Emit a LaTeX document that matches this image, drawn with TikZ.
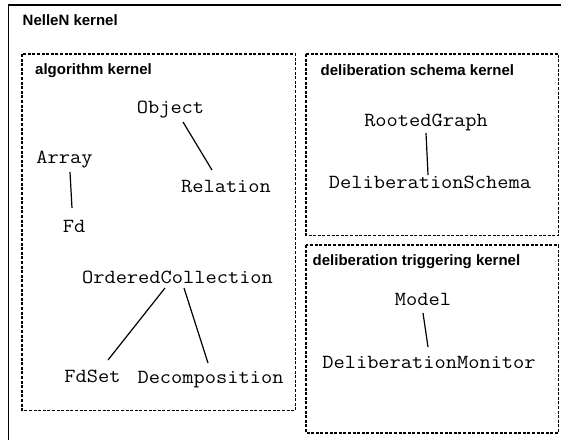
\documentclass[tikz,border=0pt]{standalone}
\usepackage{fontspec}
\setmainfont{Liberation Sans}
\newfontfamily\classfont{Latin Modern Mono}[FakeStretch=1.09]
\usetikzlibrary{calc}
\tikzset{
  kernelbox/.style={draw, line width=1.1pt, dash pattern=on 3pt off 1.6pt},
  kerneltitle/.style={anchor=base west, inner sep=0pt, font=\fontsize{15}{17}\selectfont\bfseries},
  classname/.style={anchor=base, inner sep=0pt, font=\fontsize{20}{23}\selectfont\classfont},
  link/.style={line width=1.2pt},
}
\begin{document}
\begin{tikzpicture}[x=1pt,y=-1pt]
\useasboundingbox (0,0) rectangle (561,440);

% outer package frame
\draw[line width=1.5pt] (8.5,440) -- (8.5,5) -- (561,5);
\node[kerneltitle] (nellen) at (22.5,25) {NelleN kernel};

% sub-kernel frames
\draw[kernelbox] (22,54) rectangle (295.5,410.5);
\draw[kernelbox] (306,54) rectangle (558.5,235.5);
\draw[kernelbox] (306,245) rectangle (558.5,433);

\node[kerneltitle] (algo) at (35,74) {algorithm kernel};
\node[kerneltitle] (schema) at (320.5,75) {deliberation schema kernel};
\node[kerneltitle] (trigger) at (312.5,265) {deliberation triggering kernel};

% algorithm kernel classes
\node[classname] (obj) at (170.5,113) {Object};
\node[classname] (rel) at (226,192) {Relation};
\node[classname] (arr) at (64.5,163) {Array};
\node[classname] (fd) at (74,232) {Fd};
\node[classname] (oc) at (177.5,283) {OrderedCollection};
\node[classname] (fdset) at (92.5,382) {FdSet};
\node[classname] (dec) at (210.5,383.5) {Decomposition};

% deliberation schema kernel classes
\node[classname] (rg) at (426,126) {RootedGraph};
\node[classname] (ds) at (430,188.5) {DeliberationSchema};

% deliberation triggering kernel classes
\node[classname] (model) at (423,305) {Model};
\node[classname] (dm) at (429,368) {DeliberationMonitor};

% links
\draw[link] ($(obj.base)+(12.5,9)$) -- ($(rel.base)+(-14,-22)$);
\draw[link] ($(arr.base)+(5.5,9)$) -- ($(fd.base)+(-2,-24)$);
\draw[link] ($(oc.base)+(-12.5,5)$) -- ($(fdset.base)+(15.5,-22)$);
\draw[link] ($(oc.base)+(6.5,5)$) -- ($(dec.base)+(-2.5,-20.5)$);
\draw[link] ($(rg.base)+(0,7)$) -- ($(ds.base)+(-2,-13.5)$);
\draw[link] ($(model.base)+(0,8)$) -- ($(dm.base)+(-1,-21)$);
\end{tikzpicture}
\end{document}
